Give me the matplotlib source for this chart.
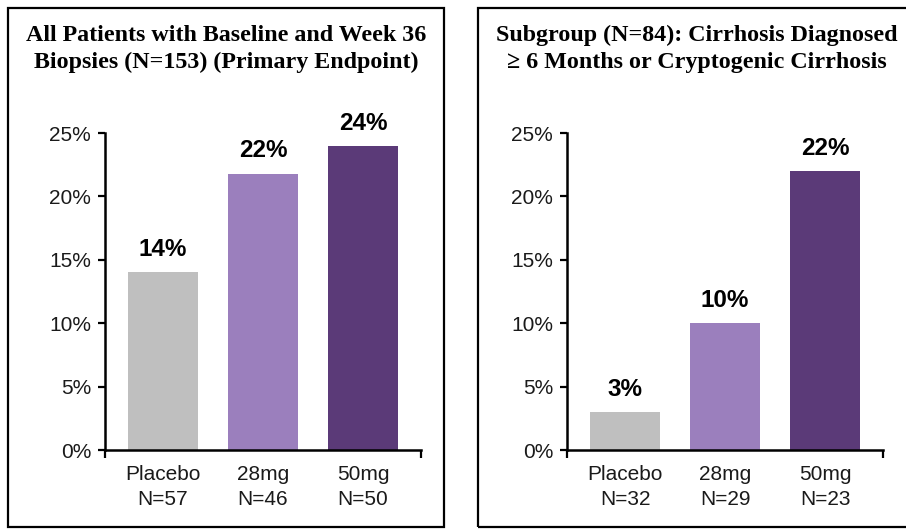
import matplotlib
matplotlib.use("Agg")
import matplotlib.pyplot as plt
from matplotlib.patches import Rectangle
import numpy as np

# datos de los dos paneles
grupos = ['Placebo', '28mg', '50mg']
n_todos = [57, 46, 50]
val_todos = [14.0, 21.8, 24.0]
n_sub = [32, 29, 23]
val_sub = [3.0, 10.0, 22.0]
etiq_todos = ['14%', '22%', '24%']
etiq_sub = ['3%', '10%', '22%']
titulo_todos = "All Patients with Baseline and Week 36\nBiopsies (N=153) (Primary Endpoint)"
titulo_sub = "Subgroup (N=84): Cirrhosis Diagnosed\n\u2265 6 Months or Cryptogenic Cirrhosis"
colores = ['#BFBFBF', '#9B7FBD', '#5B3A78']

W, H = 906, 529
fig = plt.figure(figsize=(W / 100, H / 100), dpi=100)

# recuadros de cada panel
for x0, x1 in [(8, 444), (478, 916)]:
    fig.patches.append(Rectangle((x0 / W, 1 - 527 / H), (x1 - x0) / W, (527 - 8) / H,
                                 transform=fig.transFigure, fill=False,
                                 edgecolor='black', linewidth=1.6))


def panel(left_px, vals, etiq, ns, titulo, cx):
    ax = fig.add_axes([left_px / W, 1 - 450 / H, 316 / W, 317 / H])
    co = np.arange(len(vals))
    ax.bar(co, vals, 0.7, color=colores)
    for i, v, t in zip(co, vals, etiq):
        ax.annotate(t, xy=(i, v), xytext=(0, 8), textcoords='offset points',
                    ha='center', va='bottom', fontsize=17.5, fontweight='bold',
                    family='Liberation Sans')
    ax.set_xlim(-0.58, 2.58)
    ax.set_ylim(0, 25)
    ax.set_yticks([0, 5, 10, 15, 20, 25])
    ax.set_yticklabels([f'{t}%' for t in [0, 5, 10, 15, 20, 25]],
                       family='Liberation Sans', fontsize=15, color='#1a1a1a')
    ax.set_xticks([-0.58, 2.58], minor=True)
    ax.set_xticks(co)
    ax.set_xticklabels([f'{g}\nN={n}' for g, n in zip(grupos, ns)],
                       family='Liberation Sans', fontsize=15, color='#1a1a1a',
                       linespacing=1.35)
    ax.tick_params(axis='x', which='major', length=0, pad=11)
    ax.tick_params(axis='x', which='minor', length=6, width=1.6, direction='out')
    ax.tick_params(axis='y', length=5, width=1.6, direction='out', pad=5)
    for s in ['top', 'right']:
        ax.spines[s].set_visible(False)
    for s in ['left', 'bottom']:
        ax.spines[s].set_linewidth(1.8)
    fig.text(cx / W, 1 - 49 / H, titulo, ha='center', va='center',
             family='Liberation Serif', fontweight='bold', fontsize=17.3,
             linespacing=1.35)
    return ax


panel(105, val_todos, etiq_todos, n_todos, titulo_todos, 226)
panel(567, val_sub, etiq_sub, n_sub, titulo_sub, 697)

fig.savefig('out.png', dpi=100)
